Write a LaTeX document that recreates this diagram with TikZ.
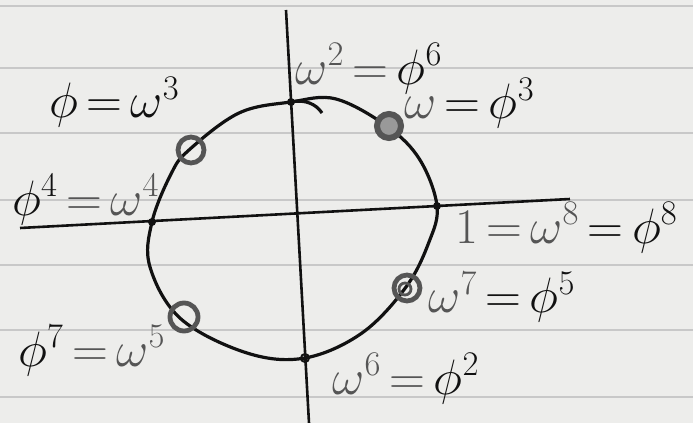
\documentclass[tikz,border=0pt]{standalone}
\usepackage{xcolor}
\definecolor{paper}{HTML}{EDEDEB}
\definecolor{rulecol}{HTML}{C8C8C8}
\definecolor{ink}{HTML}{111111}
\definecolor{pencil}{HTML}{555555}
\thickmuskip=3mu
\begin{document}
\begin{tikzpicture}[x=0.5pt,y=-0.5pt,
  curvestyle/.style={line width=1.6pt, ink},
  axisstyle/.style={line width=1.3pt, ink},
  ringstyle/.style={draw=pencil, line width=2.4pt},
  dotstyle/.style={circle, fill=ink, inner sep=0pt, minimum size=4pt},
  rulestyle/.style={draw=rulecol, line width=1pt},
  lbl/.style={font=\fontsize{26}{30}\selectfont, inner sep=0pt, text=ink, anchor=base west},
  smalllbl/.style={lbl, font=\fontsize{24}{28}\selectfont}]
\fill[paper] (0,0) rectangle (693,423);
\useasboundingbox (0,0) rectangle (693,423);
\foreach \yy in {6,68,133,200,265,330,397} \draw[rulestyle] (0,\yy) -- (693,\yy);
% axes
\coordinate (hl) at (20,228);
\coordinate (hr) at (570,199);
\coordinate (vt) at (286,10);
\coordinate (vb) at (309,423);
\draw[axisstyle] (hl) -- (hr);
\draw[axisstyle] (vt) -- (vb);
% curve points
\coordinate (top) at (291,102);
\coordinate (c2) at (336,99);
\coordinate (ur) at (388,127);
\coordinate (c4) at (420,160);
\coordinate (right) at (437,206);
\coordinate (c6) at (429,242);
\coordinate (lr) at (406,287);
\coordinate (c8) at (362,333);
\coordinate (bottom) at (305,358);
\coordinate (c10) at (247,353);
\coordinate (ll) at (181,319);
\coordinate (c12) at (150,267);
\coordinate (left) at (152,222);
\coordinate (c14) at (171,174);
\coordinate (ul) at (189,150);
\coordinate (c16) at (239,113);
\draw[curvestyle] plot[smooth cycle, tension=0.6] coordinates {(top) (c2) (ur) (c4) (right) (c6) (lr) (c8) (bottom) (c10) (ll) (c12) (left) (c14) (ul) (c16)};
% hook at the top
\coordinate (hookend) at (322,113);
\draw[curvestyle] (top) .. controls (305,99) and (316,104) .. (hookend);
% points
\node[dotstyle] (dtop) at (top) {};
\node[dotstyle] (dleft) at (left) {};
\node[dotstyle] (dright) at (right) {};
\node[circle, draw=ink, line width=1pt, inner sep=0pt, minimum size=4pt] (dbottom) at (bottom) {};
% rings
\node[circle, ringstyle, inner sep=0pt, minimum size=13pt] (rul) at (191,150) {};
\node[circle, ringstyle, line width=3pt, fill=pencil!60, inner sep=0pt, minimum size=12pt] (rur) at (389,126) {};
\node[circle, ringstyle, inner sep=0pt, minimum size=13pt] (rlr) at (407,288) {};
\node[circle, draw=pencil, line width=1.4pt, inner sep=0pt, minimum size=6pt] (rlr2) at (405,289) {};
\node[circle, ringstyle, inner sep=0pt, minimum size=14pt] (rll) at (184,317) {};
% labels
\node[lbl] (l1) at (49,118) {$\phi = \omega^3$};
\node[smalllbl] (l2) at (295,84) {$\color{pencil}\omega^2 = {\color{ink}\phi^6}$};
\node[lbl] (l3) at (404,119) {$\color{pencil}\omega \mathrel{\color{ink}=} {\color{ink}\phi^3}$};
\node[lbl] (l4) at (12,215) {$\phi^4 \mathrel{\color{pencil}=} {\color{pencil}\omega^4}$};
\node[lbl] (l5) at (455,243) {$\color{pencil}1 = \omega^8 \mathrel{\color{ink}=} {\color{ink}\phi^8}$};
\node[lbl] (l6) at (428,313) {$\color{pencil}\omega^7 \mathrel{\color{ink}=} {\color{ink}\phi^5}$};
\node[lbl] (l7) at (18,366) {$\phi^7 \mathrel{\color{pencil}=} {\color{pencil}\omega^5}$};
\node[lbl] (l8) at (332,394) {$\color{pencil}\omega^6 = {\color{ink}\phi^2}$};
\end{tikzpicture}
\end{document}
